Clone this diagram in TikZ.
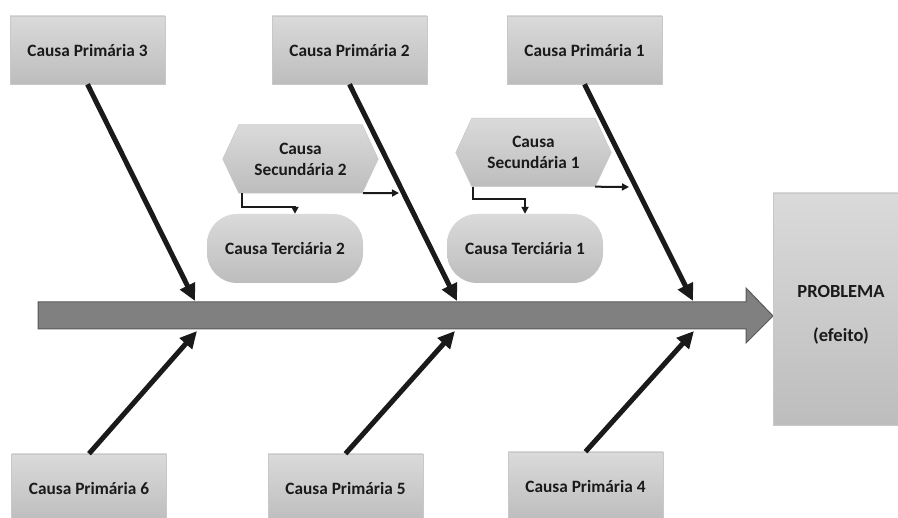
\documentclass[tikz,border=0pt]{standalone}
\usepackage{fontspec}
\setmainfont{Carlito}
\usetikzlibrary{arrows.meta,calc,backgrounds}
\definecolor{boxtop}{HTML}{DADADA}
\definecolor{boxbot}{HTML}{BDBDBD}
\definecolor{boxline}{HTML}{C8C8C8}
\definecolor{spinefill}{HTML}{808080}
\definecolor{spineline}{HTML}{595959}
\definecolor{txt}{HTML}{1A1A1A}
\begin{document}
\begin{tikzpicture}[x=1pt,y=-1pt,
  font=\fontsize{17.3}{21}\selectfont\bfseries, text=txt,
  cbox/.style={draw=boxline, line width=0.6pt, top color=boxtop, bottom color=boxbot,
    minimum width=155pt, minimum height=68pt, inner sep=0pt},
  hexnode/.style={minimum width=155pt, minimum height=68pt, inner sep=0pt, align=center},
  tertbox/.style={top color=boxtop, bottom color=boxbot, rounded corners=30pt,
    minimum width=156pt, minimum height=69pt, inner sep=0pt},
  bigarrow/.style={line width=5pt, draw=txt, -{Triangle[length=17pt,width=16pt]}},
  smallarrow/.style={line width=2pt, draw=txt, -{Triangle[length=7pt,width=7pt]}}]
\useasboundingbox (0,0) rectangle (898,518);
\clip (0,0) rectangle (898,518);
% spine
\filldraw[fill=spinefill, draw=spineline, line width=1pt]
  (38,302) -- (746,302) -- (746,288) -- (773,316) -- (746,343) -- (746,329) -- (38,329) -- cycle;
% primary causes
\node[cbox] (cp3) at (87.5,50) {Causa Primária 3};
\node[cbox] (cp2) at (349.5,50) {Causa Primária 2};
\node[cbox] (cp1) at (584.5,50) {Causa Primária 1};
\node[cbox] (cp6) at (89,488) {Causa Primária 6};
\node[cbox] (cp5) at (345.5,488) {Causa Primária 5};
\node[cbox] (cp4) at (585.5,486) {Causa Primária 4};
% problem
\node[draw=boxline, line width=0.6pt, top color=boxtop, bottom color=boxbot,
  minimum width=136pt, minimum height=232pt, inner sep=0pt] (prob) at (841,309) {};
\node[align=center, font=\fontsize{18.5}{22}\selectfont\bfseries] (probtxt) at (841,315) {PROBLEMA\\[22pt](efeito)};
% secondary causes
\node[hexnode] (cs2) at (300.5,159) {Causa\\Secundária 2};
\node[hexnode] (cs1) at (533.5,152.5) {Causa\\Secundária 1};
\begin{scope}[on background layer]
\foreach \n in {cs2,cs1}{
  \shade[top color=boxtop, bottom color=boxbot, draw=boxline, line width=0.6pt]
    (\n.west) -- ($(\n.north west)+(16,0)$) -- ($(\n.north east)+(-16,0)$) -- (\n.east)
    -- ($(\n.south east)+(-16,0)$) -- ($(\n.south west)+(16,0)$) -- cycle;
}
\end{scope}
% tertiary causes
\node[tertbox] (ct2) at (285,248.5) {Causa Terciária 2};
\node[tertbox] (ct1) at (525,248.5) {Causa Terciária 1};
% spine targets
\coordinate (t3) at (195,301);
\coordinate (t2) at (457,301);
\coordinate (t1) at (693,301);
\coordinate (b6) at (197,331);
\coordinate (b5) at (455,331);
\coordinate (b4) at (694,331);
\draw[bigarrow] (cp3.south) -- (t3);
\draw[bigarrow] (cp2.south) -- (t2);
\draw[bigarrow] (cp1.south) -- (t1);
\draw[bigarrow] (cp6.north) -- (b6);
\draw[bigarrow] (cp5.north) -- (b5);
\draw[bigarrow] (cp4.north) -- (b4);
% small arrows
\coordinate (s2) at (399,193);
\coordinate (s1) at (629,187);
\draw[smallarrow] ($(cs2.south east)+(-15,0)$) -- (s2);
\draw[smallarrow] ($(cs1.south east)+(-16,0)$) -- (s1);
\draw[smallarrow] ($(cs2.south west)+(19,0)$) -- ++(0,14) -| ([xshift=10pt]ct2.north);
\draw[smallarrow] ($(cs1.south west)+(17,0)$) -- ++(0,12) -| (ct1.north);
\end{tikzpicture}
\end{document}
